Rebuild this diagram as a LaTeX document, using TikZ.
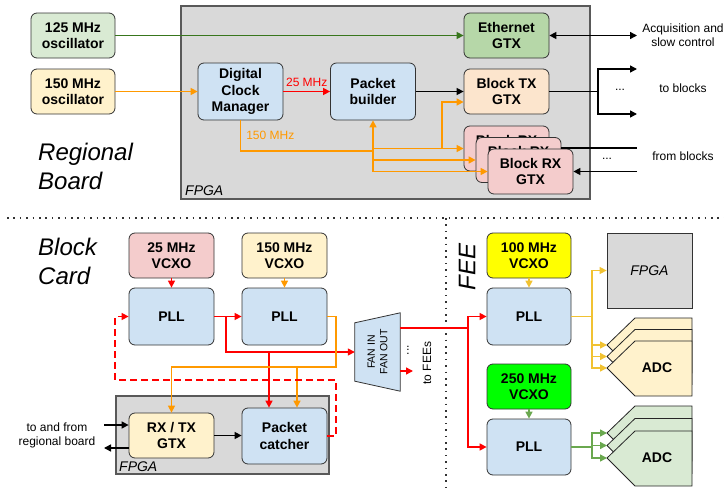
\documentclass[tikz,border=0pt]{standalone}
\usepackage{fontspec}
\setmainfont{Liberation Sans}
\usetikzlibrary{arrows.meta}

\definecolor{cblue}{HTML}{CFE2F3}
\definecolor{cyel}{HTML}{FFF2CC}
\definecolor{cgrn}{HTML}{D9EAD3}
\definecolor{cpeach}{HTML}{FCE5CD}
\definecolor{cpink}{HTML}{F4CCCC}
\definecolor{ceth}{HTML}{B6D7A8}
\definecolor{cgray}{HTML}{D9D9D9}
\definecolor{corange}{HTML}{FF9900}
\definecolor{cgold}{HTML}{F1C232}
\definecolor{cgreen}{HTML}{6AA84F}
\definecolor{cdgreen}{HTML}{38761D}
\definecolor{cred}{HTML}{FF0000}
\definecolor{cvivid}{HTML}{00FF00}
\definecolor{cyellow}{HTML}{FFFF00}

\begin{document}
\begin{tikzpicture}[x=1pt,y=-1pt,
  box/.style={draw=black!80,rounded corners=6pt,line width=0.8pt,minimum width=85pt,minimum height=45pt,align=center,inner sep=1pt,font=\bfseries\fontsize{14}{16.5}\selectfont},
  tallbox/.style={box,minimum height=57pt},
  chip/.style={draw=black!65,fill=cgray,line width=1.2pt},
  chiplabel/.style={font=\itshape\fontsize{14}{16}\selectfont,inner sep=1pt},
  note/.style={font=\fontsize{12}{14}\selectfont,align=center,inner sep=1pt},
  section/.style={font=\itshape\fontsize{24}{29}\selectfont,align=left,inner sep=0pt},
  wire/.style={line width=1.5pt},
  tip/.style={wire,-{Triangle[length=7pt,width=7pt]}},
  both/.style={wire,{Triangle[length=7pt,width=7pt]}-{Triangle[length=7pt,width=7pt]}},
  sep/.style={line width=1.6pt,dash pattern=on 1.6pt off 4.8pt,black!80},
  adc/.style={draw=black!85,line width=0.8pt}]

\useasboundingbox (0,0) rectangle (724,490);

\draw[chip] (181,6) rectangle (590,199);
\node[chiplabel,anchor=west] (fpgaR) at (184,191) {FPGA};
\node[section,anchor=west] (regional) at (38,166) {Regional\\Board};

\node[box,fill=cgrn,minimum width=84pt] (osc125) at (73,35.5) {125 MHz\\oscillator};
\node[box,fill=cyel,minimum width=84pt] (osc150) at (73,91.5) {150 MHz\\oscillator};
\node[tallbox,fill=cblue] (dcm) at (240.5,91.5) {Digital\\Clock\\Manager};
\node[tallbox,fill=cblue] (pb) at (373,91.5) {Packet\\builder};
\node[box,fill=ceth] (eth) at (506.5,35.5) {Ethernet\\GTX};
\node[box,fill=cpeach] (btx) at (506.5,91.5) {Block TX\\GTX};
\node[box,fill=cpink] (brx1) at (506.5,148.5) {Block RX\\GTX};
\node[box,fill=cpink] (brx2) at (518.5,160) {Block RX\\GTX};
\node[box,fill=cpink] (brx3) at (530.5,171.5) {Block RX\\GTX};

\node[note] (acq) at (683,35) {Acquisition and\\slow control};
\node[note] (toblk) at (683,88) {to blocks};
\node[note] (fromblk) at (683,156) {from blocks};
\node[note] (dotsTx) at (620,90) {...};
\node[note] (dotsRx) at (607,159) {...};

\coordinate (acqEnd) at (637,35.5);
\coordinate (tbSplit) at (598,91.5);
\coordinate (tbUp) at (637,69);
\coordinate (tbDown) at (637,114);
\coordinate (fbUp) at (637,148);
\coordinate (fbDown) at (637,171.5);
\coordinate (dcmBus) at (373,151);
\coordinate (rxBus) at (373,171.5);
\coordinate (txBus) at (442,148.5);

\draw[tip,cdgreen] (osc125) -- (eth);
\draw[tip,corange] (osc150) -- (dcm);
\draw[tip,cred] (dcm) -- (pb) node[midway,above=3pt,note,text=cred] {25 MHz};
\draw[tip] (pb) -- (btx);
\draw[both] (eth) -- (acqEnd);
\draw[tip] (btx) -- (tbSplit) |- (tbUp);
\draw[tip] (tbSplit) |- (tbDown);
\draw[wire] (brx2.east |- fbUp) -- (fbUp);
\draw[tip] (fbDown) -- (brx3);

\draw[wire,corange] (dcm) |- (dcmBus) node[pos=0.25,right=4pt,note,text=corange] {150 MHz};
\draw[tip,corange] (rxBus) -- (pb);
\draw[tip,corange] (rxBus) -- (brx3);
\draw[tip,corange] (rxBus |- brx2) -- (brx2);
\draw[tip,corange] (rxBus |- brx1) -- (brx1);
\draw[tip,corange] (txBus) |- ([yshift=-10.5pt]btx.west);

\draw[sep] (7,218) -- (724,218);
\draw[sep] (446,218) -- (446,490);

\node[section,anchor=west] (blockcard) at (38,261.5) {Block\\Card};
\draw[chip] (116,396) rectangle (329,474);
\node[chiplabel,anchor=west] (fpgaB) at (118,467) {FPGA};

\node[box,fill=cpink] (vcxo25) at (171.5,255.5) {25 MHz\\VCXO};
\node[box,fill=cyel] (vcxo150) at (284.5,255.5) {150 MHz\\VCXO};
\node[tallbox,fill=cblue] (pll1) at (171.5,316.5) {PLL};
\node[tallbox,fill=cblue] (pll2) at (284.5,316.5) {PLL};
\node[box,fill=cyel] (rxtx) at (171.5,435.5) {RX / TX\\GTX};
\node[tallbox,fill=cblue,minimum height=56pt] (pc) at (284.5,436) {Packet\\catcher};
\node[note] (tofrom) at (57,435) {to and from\\regional board};

\node[minimum width=45pt,minimum height=78pt,inner sep=0pt] (fan) at (377.5,352) {};
\draw[fill=cblue,draw=black!80,line width=0.8pt] ([yshift=-10pt]fan.north west) -- (fan.north east) -- (fan.south east) -- ([yshift=10pt]fan.south west) -- cycle;
\node[rotate=90,align=center,font=\fontsize{10.5}{12.5}\selectfont] (fantext) at (fan) {FAN IN\\FAN OUT};
\node[note,rotate=90] (feeDots) at (408,350) {...};
\node[note,rotate=90] (toFees) at (427,363) {to FEEs};

\coordinate (tfIn) at (104,425);
\coordinate (tfOut) at (104,448);
\coordinate (redJ) at (226,316.5);
\coordinate (pcRed) at ([xshift=-15.5pt]pc.north);
\coordinate (pcOr) at ([xshift=12.5pt]pc.north);
\coordinate (orJ) at (336,367);
\coordinate (dashR) at (336,380);
\coordinate (dashL) at (115,380);

\draw[tip] (tfIn) -- (tfIn -| rxtx.west);
\draw[tip] (tfOut -| rxtx.west) -- (tfOut);
\draw[tip,cred] (vcxo25) -- (pll1);
\draw[tip,corange] (vcxo150) -- (pll2);
\draw[tip,cred] (pll1) -- (pll2);
\draw[tip] (rxtx) -- (rxtx -| pc.west);
\draw[tip,cred] (redJ) |- (fan.west);
\draw[tip,cred] (pcRed |- fan.west) -- (pcRed);
\draw[tip,corange] (pll2) -| (orJ) -| (rxtx);
\draw[tip,corange] (pcOr |- orJ) -- (pcOr);
\draw[tip,cred,dash pattern=on 7pt off 4pt] (pc.east) -| (dashR) -- (dashL) |- (pll1);

\node[section,rotate=90] (feeLbl) at (467,267) {FEE};
\node[box,fill=cyellow,minimum width=84pt] (vcxo100) at (529,255.5) {100 MHz\\VCXO};
\node[tallbox,fill=cblue,minimum width=84pt] (pll3) at (529,316.5) {PLL};
\node[box,fill=cvivid,minimum width=84pt] (vcxo250) at (529,386.5) {250 MHz\\VCXO};
\node[tallbox,fill=cblue,minimum width=84pt,minimum height=56pt] (pll4) at (529,447) {PLL};
\node[draw=black!80,fill=cgray,line width=0.8pt,minimum width=85pt,minimum height=75pt,chiplabel] (fpgaF) at (649.5,270.5) {FPGA};

\foreach \t/\n in {345/1,356.5/2,368/3} {
  \draw[adc,fill=cyel] (607,\t) -- (635,\t-27) -- (692,\t-27) -- (692,\t+28) -- (635,\t+28) -- cycle;
  \coordinate (adcA\n) at (607,\t);
}
\foreach \t/\n in {433/1,445.5/2,458/3} {
  \draw[adc,fill=cgrn] (607,\t) -- (635,\t-27) -- (692,\t-27) -- (692,\t+28) -- (635,\t+28) -- cycle;
  \coordinate (adcB\n) at (607,\t);
}
\node[font=\bfseries\fontsize{14}{16}\selectfont] (adcA) at (657,368) {ADC};
\node[font=\bfseries\fontsize{14}{16}\selectfont] (adcB) at (657,458) {ADC};

\coordinate (feeJ) at (468,328);
\coordinate (toFee) at (413,371);
\coordinate (goldJ) at (592,316.5);
\coordinate (grnJ) at (592,447);

\draw[tip,cred] ([yshift=24pt]fan.east) -- (feeJ) |- (pll3);
\draw[tip,cred] (feeJ) |- (pll4);
\draw[tip,cred] ([yshift=-19pt]fan.east) -- (toFee);
\draw[tip,cgold] (vcxo100) -- (pll3);
\draw[tip,cgreen] (vcxo250) -- (pll4);
\draw[wire,cgold] (pll3) -- (goldJ);
\draw[tip,cgold] (goldJ) |- (fpgaF);
\foreach \n in {1,2,3} \draw[tip,cgold] (goldJ) |- (adcA\n);
\draw[wire,cgreen] (pll4) -- (grnJ);
\foreach \n in {1,2,3} \draw[tip,cgreen] (grnJ) |- (adcB\n);
\end{tikzpicture}
\end{document}
